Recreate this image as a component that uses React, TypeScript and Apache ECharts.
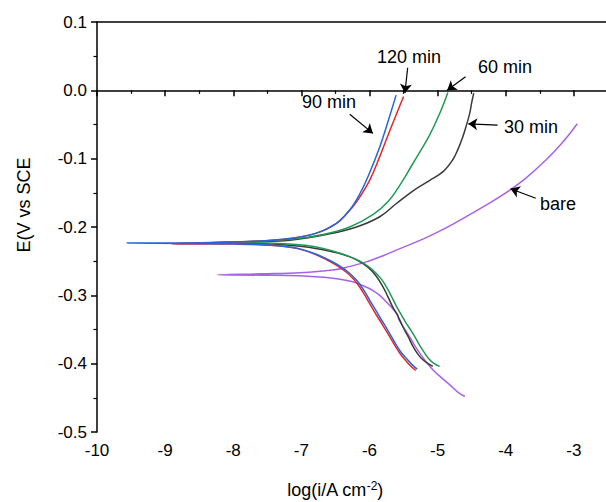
import React, { useEffect, useRef } from "react";
import * as echarts from "echarts";

// log(i) [x], E (V vs SCE) [y]
const bare: [number, number][] = [
  [-4.6, -0.448], [-4.7, -0.442], [-4.82, -0.431], [-4.95, -0.42], [-5.07, -0.409], [-5.17, -0.397],
  [-5.26, -0.385], [-5.34, -0.373], [-5.41, -0.361], [-5.5, -0.347], [-5.56, -0.337], [-5.575, -0.334],
  [-5.585, -0.329], [-5.63, -0.323], [-5.75, -0.31], [-5.85, -0.3], [-5.95, -0.293], [-6.07, -0.287],
  [-6.19, -0.282], [-6.35, -0.278], [-6.54, -0.275], [-7.02, -0.2715], [-7.6, -0.2705], [-8.23, -0.27],
  [-7.6, -0.2685], [-7.02, -0.267], [-6.54, -0.263], [-6.3, -0.258], [-6.05, -0.251], [-5.8, -0.242],
  [-5.56, -0.232], [-5.2, -0.217], [-4.87, -0.201], [-4.55, -0.183], [-4.24, -0.165], [-3.94, -0.146],
  [-3.7, -0.128], [-3.41, -0.102], [-3.2, -0.08], [-3.05, -0.062], [-2.95, -0.049],
];

const min30: [number, number][] = [
  [-5.07, -0.404], [-5.14, -0.4], [-5.22, -0.394], [-5.29, -0.386], [-5.36, -0.375], [-5.43, -0.361],
  [-5.51, -0.346], [-5.58, -0.331], [-5.66, -0.317], [-5.73, -0.302], [-5.8, -0.288], [-5.9, -0.272],
  [-6.02, -0.259], [-6.19, -0.248], [-6.4, -0.24], [-6.7, -0.233], [-7.02, -0.228], [-7.5, -0.2245],
  [-8.4, -0.223],
  [-7.7, -0.2215], [-7.17, -0.2195], [-6.58, -0.21], [-6.19, -0.2], [-5.85, -0.185], [-5.61, -0.166],
  [-5.36, -0.147], [-5.12, -0.132], [-4.92, -0.119], [-4.78, -0.102], [-4.7, -0.086], [-4.63, -0.068],
  [-4.58, -0.052], [-4.53, -0.034], [-4.5, -0.018], [-4.47, -0.004],
];

const min60: [number, number][] = [
  [-4.97, -0.404], [-5.05, -0.4], [-5.12, -0.394], [-5.18, -0.386], [-5.24, -0.377], [-5.31, -0.365],
  [-5.38, -0.353], [-5.46, -0.341], [-5.53, -0.329], [-5.61, -0.315], [-5.68, -0.301], [-5.75, -0.288],
  [-5.82, -0.277], [-5.9, -0.268], [-6.0, -0.259], [-6.14, -0.25], [-6.3, -0.243], [-6.54, -0.235],
  [-6.8, -0.229], [-7.02, -0.226], [-7.5, -0.2235], [-8.2, -0.2225],
  [-7.7, -0.221], [-7.17, -0.218], [-6.68, -0.211], [-6.29, -0.2], [-5.95, -0.182], [-5.72, -0.162],
  [-5.53, -0.135], [-5.38, -0.11], [-5.26, -0.09], [-5.12, -0.066], [-4.97, -0.034], [-4.85, -0.003],
];

const min90: [number, number][] = [
  [-5.3, -0.408], [-5.38, -0.401], [-5.46, -0.392], [-5.54, -0.383], [-5.61, -0.372], [-5.68, -0.36],
  [-5.75, -0.348], [-5.83, -0.335], [-5.9, -0.323], [-5.98, -0.31], [-6.05, -0.298], [-6.12, -0.287],
  [-6.19, -0.278], [-6.3, -0.267], [-6.44, -0.257], [-6.58, -0.249], [-6.73, -0.242], [-7.02, -0.232],
  [-7.4, -0.227], [-8.0, -0.2245], [-9.56, -0.2235],
  [-8.5, -0.223], [-7.6, -0.2205], [-7.17, -0.217], [-6.78, -0.209], [-6.49, -0.195], [-6.29, -0.175],
  [-6.14, -0.151], [-6.0, -0.121], [-5.85, -0.083], [-5.72, -0.043], [-5.61, -0.007],
];

const min120: [number, number][] = [
  [-5.32, -0.41], [-5.4, -0.403], [-5.48, -0.394], [-5.56, -0.384], [-5.63, -0.373], [-5.7, -0.361],
  [-5.78, -0.348], [-5.86, -0.335], [-5.94, -0.322], [-6.01, -0.31], [-6.08, -0.298], [-6.15, -0.287],
  [-6.22, -0.278], [-6.33, -0.267], [-6.47, -0.257], [-6.61, -0.249], [-6.75, -0.242], [-7.04, -0.232],
  [-7.4, -0.227], [-8.0, -0.225], [-8.9, -0.2245],
  [-7.6, -0.2205], [-7.17, -0.217], [-6.78, -0.209], [-6.49, -0.195], [-6.33, -0.18], [-6.19, -0.163],
  [-6.0, -0.132], [-5.85, -0.097], [-5.73, -0.066], [-5.61, -0.036], [-5.5, -0.009],
];

const seriesNames = ["bare", "30 min", "60 min", "120 min", "90 min"];
const seriesData = [bare, min30, min60, min120, min90];
const seriesColors = ["#a862e6", "#3a3a3a", "#1f9a55", "#e8262a", "#2466dc"];

// annotation arrows: [from, to] in data coords
const arrows: [[number, number], [number, number]][] = [
  [[-5.44, 0.033], [-5.48, -0.004]],
  [[-4.59, 0.02], [-4.86, 0.0]],
  [[-6.29, -0.035], [-5.95, -0.063]],
  [[-4.12, -0.051], [-4.55, -0.049]],
  [[-3.56, -0.158], [-3.93, -0.144]],
];

const annotations: [string, number, number][] = [
  ["120 min", 409, 57],
  ["60 min", 505, 67],
  ["90 min", 329, 102],
  ["30 min", 531, 127],
  ["bare", 558, 204],
];

const FONT = "'Liberation Sans', Arial, sans-serif";

export default function App() {
  const ref = useRef<HTMLDivElement>(null);
  useEffect(() => {
    if (!ref.current) return;
    const chart = echarts.init(ref.current, undefined, { renderer: "svg" });
    const axisCommon = {
      axisLine: { show: true, lineStyle: { color: "#000", width: 1.5 } },
      axisTick: { show: true, inside: false, length: 6, lineStyle: { color: "#000", width: 1.5 } },
      minorTick: { show: true, splitNumber: 2, length: 3.5, lineStyle: { color: "#000", width: 1.2 } },
      splitLine: { show: false },
      axisLabel: { color: "#000", fontSize: 17, fontFamily: FONT, margin: 10 },
    };
    const lineSeries: any[] = seriesData.map((d, i) => ({
      name: seriesNames[i],
      type: "line",
      data: d,
      showSymbol: false,
      smooth: 0.4,
      lineStyle: { color: seriesColors[i], width: 1.5 },
      itemStyle: { color: seriesColors[i] },
      z: 2 + i,
    }));
    lineSeries.push({
      type: "line",
      data: [],
      silent: true,
      markLine: {
        silent: true,
        symbol: ["none", "arrow"],
        symbolSize: 9,
        label: { show: false },
        lineStyle: { color: "#000", width: 1.2, type: "solid" },
        emphasis: { disabled: true },
        data: arrows.map(([a, b]) => [{ coord: a }, { coord: b }]),
      },
      z: 10,
    });
    chart.setOption({
      animation: false,
      backgroundColor: "#fff",
      grid: { left: 97, top: 22, width: 545, height: 410, outerBoundsMode: "none", containLabel: false },
      xAxis: [
        {
          type: "value",
          min: -10,
          max: -2,
          interval: 1,
          ...axisCommon,
          axisLabel: { ...axisCommon.axisLabel, showMaxLabel: false },
        },
        {
          type: "value",
          position: "top",
          min: -10,
          max: -2,
          axisLine: { show: true, lineStyle: { color: "#000", width: 1.5 } },
          axisTick: { show: false },
          axisLabel: { show: false },
          splitLine: { show: false },
        },
      ],
      yAxis: {
        type: "value",
        min: -0.5,
        max: 0.1,
        interval: 0.1,
        ...axisCommon,
        axisLabel: {
          ...axisCommon.axisLabel,
          formatter: (v: number) => v.toFixed(1),
        },
      },
      graphic: [
        {
          type: "text",
          x: 24,
          y: 205,
          rotation: Math.PI / 2,
          style: {
            text: "E(V vs SCE",
            fontSize: 18,
            fontFamily: FONT,
            fill: "#000",
            textAlign: "center",
            textVerticalAlign: "middle",
          },
        },
        {
          type: "text",
          x: 335,
          y: 490,
          style: {
            text: "{a|log(i/A cm}{s|-2}{a|)}",
            textAlign: "center",
            textVerticalAlign: "middle",
            rich: {
              a: { fontSize: 18, fontFamily: FONT, fill: "#000", color: "#000" },
              s: { fontSize: 12, fontFamily: FONT, fill: "#000", color: "#000", verticalAlign: "top", padding: [0, 0, 8, 0] },
            },
          },
        },
        ...annotations.map(([t, x, y]) => ({
          type: "text",
          x,
          y,
          style: {
            text: t,
            fontSize: 18,
            fontFamily: FONT,
            fill: "#000",
            textAlign: "center",
            textVerticalAlign: "middle",
          },
        })),
      ],
      series: lineSeries,
    });
    return () => chart.dispose();
  }, []);
  return (
    <div
      ref={ref}
      style={{ position: "absolute", left: 0, top: 0, width: 606, height: 502, background: "#fff" }}
    />
  );
}
